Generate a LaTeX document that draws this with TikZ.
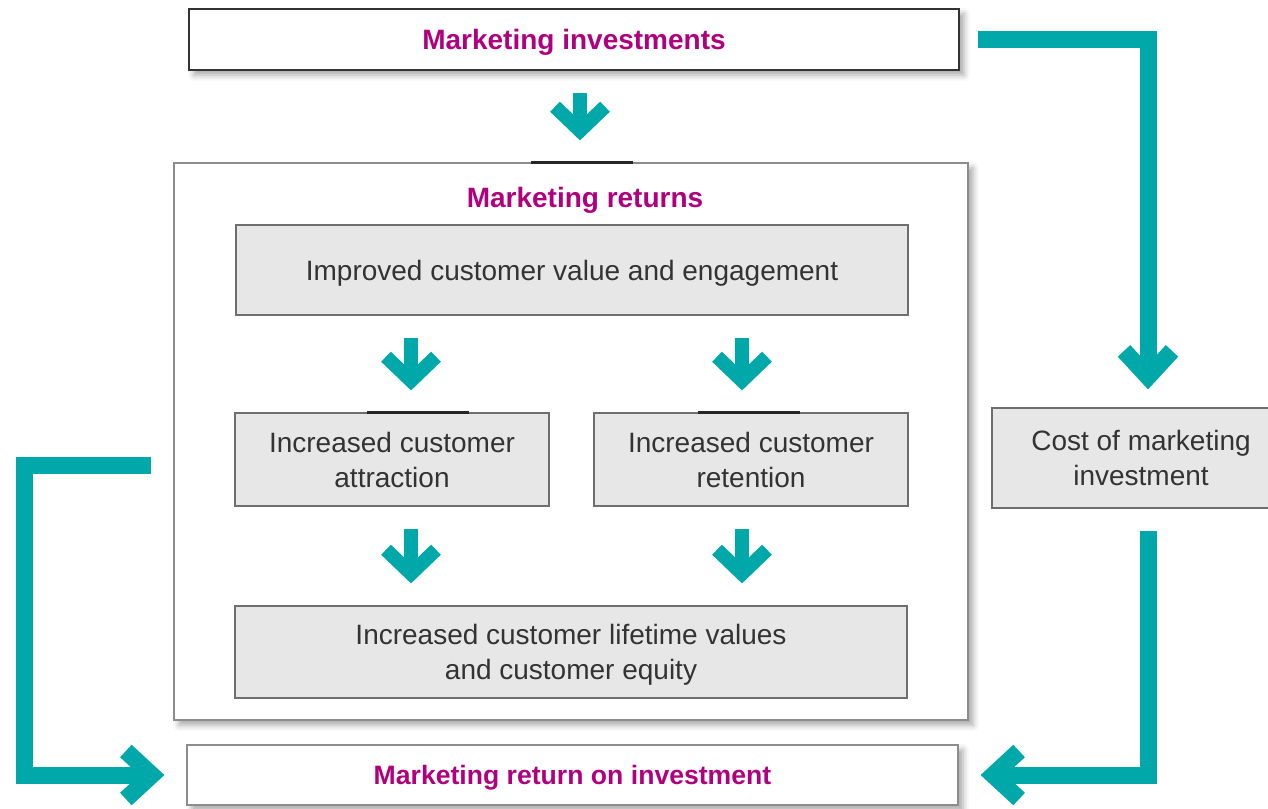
\documentclass[tikz,border=0pt]{standalone}
\usepackage{fontspec}
\setmainfont{Liberation Sans}
\usetikzlibrary{arrows.meta,shadows.blur}
\definecolor{tealc}{RGB}{0,168,170}
\definecolor{magc}{RGB}{176,0,126}
\definecolor{boxgray}{RGB}{231,231,231}
\definecolor{boxline}{RGB}{110,110,110}
\definecolor{txtgray}{RGB}{51,51,51}
\begin{document}
\begin{tikzpicture}
[x=0.5pt,y=-0.5pt,every node/.style={inner sep=0pt,align=center,text depth=0pt,text=txtgray,font=\fontsize{14}{17.5}\selectfont},
box/.style={draw=boxline,fill=boxgray,line width=0.6pt},
wbox/.style={draw=black!45,fill=white,line width=0.6pt,blur shadow={shadow xshift=2.5pt,shadow yshift=-2.5pt,shadow blur radius=3pt,shadow opacity=35}},
maglabel/.style={text=magc,font=\bfseries\fontsize{14}{17}\selectfont},
dn/.style={tealc,line width=7pt,-{Straight Barb[length=12pt,width=25pt]},shorten <=11pt,shorten >=11pt},
feedback/.style={tealc,line width=8.5pt,line join=miter,-{Straight Barb[length=13pt,width=24pt]}}]
\useasboundingbox (0,0) rectangle (1268,808);
\node[wbox,draw=black!80,minimum width=385pt,minimum height=30.5pt,maglabel] (inv) at (574,39.5) {Marketing investments};
\node[wbox,minimum width=397pt,minimum height=278.5pt] (ret) at (571,441.5) {};
\node[maglabel] (rett) at (585,197) {Marketing returns};
\node[box,minimum width=336pt,minimum height=45pt] (imp) at (572,270) {Improved customer value and engagement};
\node[box,minimum width=157pt,minimum height=46.5pt] (att) at (392,459.5) {Increased customer\\attraction};
\node[box,minimum width=157pt,minimum height=46.5pt] (rtn) at (751,459.5) {Increased customer\\retention};
\node[box,minimum width=336pt,minimum height=46pt] (ltv) at (571,652) {Increased customer lifetime values\\and customer equity};
\node[box,minimum width=149pt,minimum height=50pt] (cost) at (1141,458) {Cost of marketing\\investment};
\node[wbox,minimum width=385.5pt,minimum height=30pt,maglabel,font=\bfseries\fontsize{13.3}{16}\selectfont] (roi) at (572.5,775) {Marketing return on investment};
\foreach \n/\a/\b in {ret/-20pt/31pt,att/-12.5pt/38.5pt,rtn/-26.5pt/24.5pt}
\draw[black!85,line width=1.2pt] ([xshift=\a]\n.north) -- ([xshift=\b]\n.north);
\foreach \from/\to/\dx in {inv/ret/3pt,imp/att/-80.5pt,imp/rtn/85pt,att/ltv/9.5pt,rtn/ltv/-4.5pt}
\draw[dn] ([xshift=\dx]\from.south) -- ([xshift=\dx]\from.south |- \to.north);
\draw[feedback,shorten >=9pt] ([xshift=9pt]inv.east) -| ([xshift=3.5pt]cost.north);
\draw[feedback,shorten >=11pt] ([xshift=3.5pt,yshift=-11pt]cost.south) |- (roi.east);
\draw[feedback,shorten >=11pt] ([xshift=-11pt,yshift=-12pt]ret.west) -- ++(-127,0) |- (roi.west);
\end{tikzpicture}
\end{document}
